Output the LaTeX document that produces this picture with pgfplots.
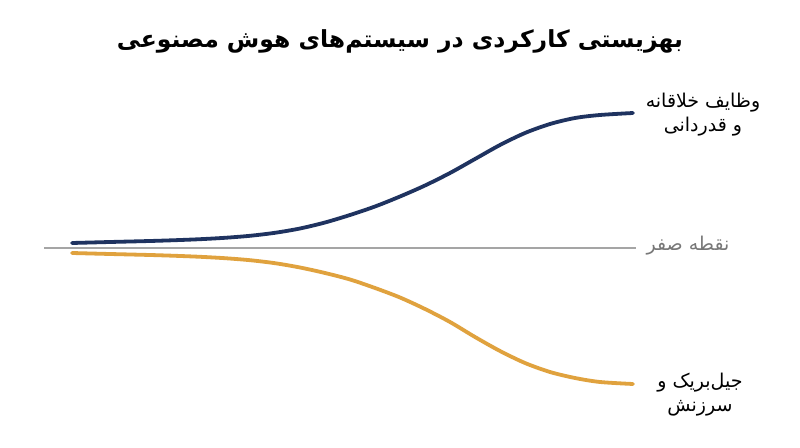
\documentclass[border=0pt]{standalone}
\usepackage{fontspec}
\usepackage{pgfplots}
\pgfplotsset{compat=1.18}
\TeXXeTstate=1
\newfontfamily\arabicfont[Script=Arabic]{DejaVu Sans}
\definecolor{navy}{RGB}{31,51,96}
\definecolor{gold}{RGB}{224,162,62}
\definecolor{zerogray}{RGB}{165,165,165}
\definecolor{labgray}{RGB}{120,120,120}

\begin{document}
\begin{tikzpicture}
\begin{axis}[x=1pt,y=1pt,xmin=0,xmax=800,ymin=-199,ymax=248,
  hide axis,clip=false]
  \fill[white] (axis cs:0,-199) rectangle (axis cs:800,248);

  % zero line
  \addplot[zerogray,line width=1.5pt] coordinates {(44,0) (636,0)};

  % up: creative tasks and gratitude
  \addplot[navy,line width=3.8pt,line cap=round,smooth] coordinates {
    (72,5) (110,6) (150,7) (175,7.8) (200,8.8) (225,10.2) (250,12.2)
    (275,15.2) (300,19.5) (325,25.5) (350,33) (375,41.5) (400,51.5)
    (425,62.5) (450,75) (475,89) (500,103) (525,115) (550,124)
    (575,130) (600,133) (633,135)};

  % down: jailbreak and scolding
  \addplot[gold,line width=3.8pt,line cap=round,smooth] coordinates {
    (72,-5) (110,-6) (150,-7) (175,-7.8) (200,-8.8) (225,-10.2) (250,-12.2)
    (275,-15.2) (300,-19.5) (325,-25) (350,-31.5) (375,-40) (400,-49.5)
    (425,-61) (450,-74) (475,-89) (500,-103) (525,-115) (550,-124)
    (575,-130) (600,-134) (633,-136)};

  \node[font=\arabicfont\bfseries\fontsize{23.5}{28}\selectfont] at (axis cs:400,207)
    {\beginR بهزیستی کارکردی در سیستم‌های هوش مصنوعی\endR};
  \node[font=\arabicfont\fontsize{19}{24}\selectfont,align=center] at (axis cs:703,133)
    {\beginR وظایف خلاقانه\endR\\\beginR و قدردانی\endR};
  \node[font=\arabicfont\fontsize{19}{24}\selectfont,text=labgray] at (axis cs:688,2)
    {\beginR نقطه صفر\endR};
  \node[font=\arabicfont\fontsize{19}{24}\selectfont,align=center] at (axis cs:700,-147)
    {\beginR جیل‌بریک و\endR\\\beginR سرزنش\endR};
\end{axis}
\end{tikzpicture}
\end{document}
